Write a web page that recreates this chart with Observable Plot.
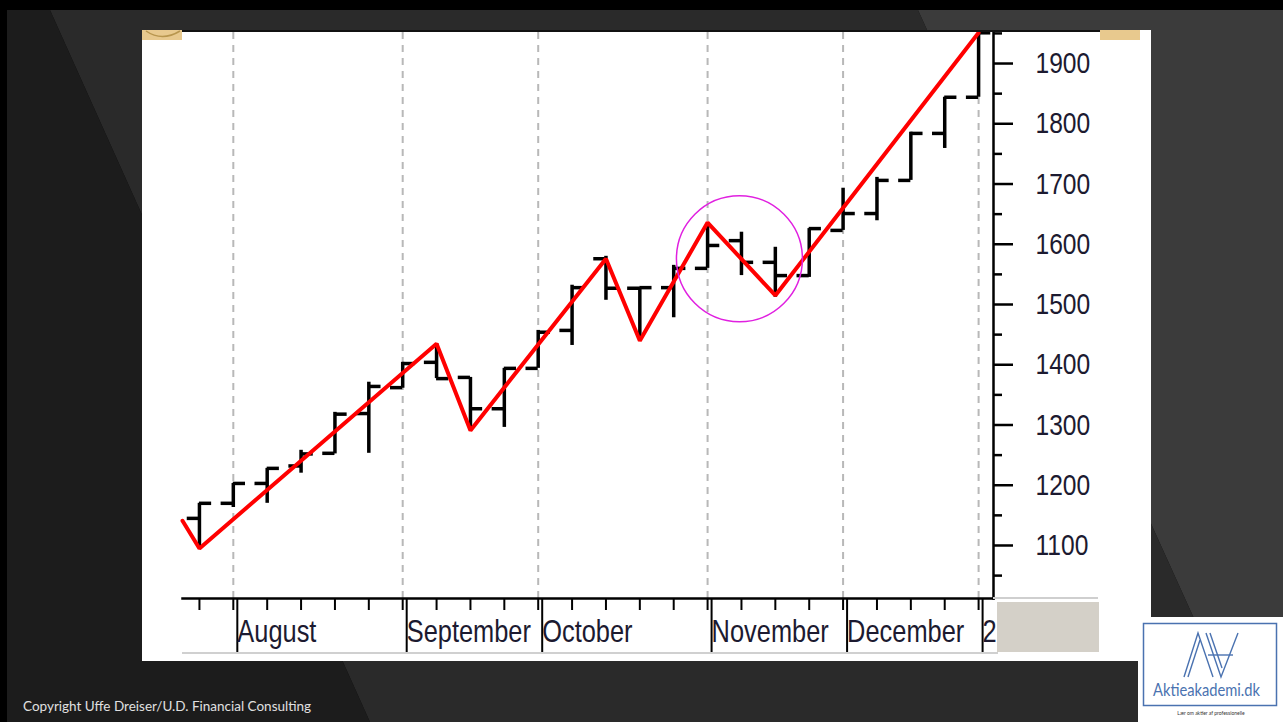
<!DOCTYPE html>
<html>
<head>
<meta charset="utf-8">
<script src="https://cdn.jsdelivr.net/npm/d3@7"></script>
<script src="https://cdn.jsdelivr.net/npm/@observablehq/plot@0.6"></script>
<style>
  html, body { margin: 0; padding: 0; background: #000; width: 1283px; height: 722px; overflow: hidden; }
  .layer { position: absolute; left: 0; top: 0; width: 1283px; height: 722px; }
  #panel { position: absolute; left: 142px; top: 30px; width: 1009px; height: 631px; background: #fff; }
  #copy { position: absolute; left: 23px; top: 698px; font-family: Lato, "Open Sans", sans-serif; font-size: 13.5px; color: #e0e0e0; }
</style>
</head>
<body>
<svg class="layer" width="1283" height="722">
  <polygon points="7,10 50,10 370,722 7,722" fill="#1c1c1c"/>
  <polygon points="50,10 918,10 1241,722 370,722" fill="#2a2a2a"/>
  <polygon points="918,10 1283,10 1283,722 1241,722" fill="#3b3b3b"/>
</svg>
<div id="panel"></div>
<svg class="layer" width="1283" height="722" style="pointer-events:none">
  <rect x="142" y="30" width="958" height="2" fill="#111"/>
  <rect x="142" y="30" width="40" height="10" fill="#e8c98e"/>
  <path d="M146,31 Q162,42 180,31" stroke="#b8964e" stroke-width="1.5" fill="none"/>
  <rect x="1100" y="30" width="40" height="10" fill="#e8c98e"/>
  <rect x="993" y="597" width="105" height="2" fill="#cfcfcf"/>
  <rect x="997" y="602" width="102" height="50" fill="#d4d0c8"/>
  <rect x="182" y="652" width="816" height="2" fill="#d0d0d0"/>
  <rect x="1138" y="617" width="145" height="105" fill="#fff"/>
  <rect x="1143.5" y="623.5" width="133" height="82" fill="none" stroke="#4a72b0" stroke-width="1.5"/>
  <g stroke="#4a72b0" stroke-width="1.4" fill="none">
    <path d="M1184,677 L1198,633 L1213,677"/>
    <path d="M1188,677 L1200,640"/>
    <path d="M1206,633 L1221,677 L1238,633"/>
    <path d="M1210,633 L1222,668"/>
    <path d="M1208,655 L1233,655"/>
  </g>
  <text x="1153" y="696" textLength="107" lengthAdjust="spacingAndGlyphs" font-family="Lato, 'Open Sans', sans-serif" font-size="17" fill="#4a72b0">Aktieakademi.dk</text>
  <text x="1211" y="715" text-anchor="middle" font-family="Lato, sans-serif" font-size="5" fill="#333">Lær om aktier af professionelle</text>
</svg>
<div id="copy">Copyright Uffe Dreiser/U.D. Financial Consulting</div>
<script>
// week index of each weekly bar (0 = last week of July)
const weekIdx = d3.range(0, 24);
// first week of each month and its label
const monthStarts = [1, 6, 10, 15, 19, 23];
const monthLabels = ["August", "September", "October", "November", "December", "2"];
// weekly OHLC values
const opens  = [1145, 1170, 1203, 1232, 1253, 1319, 1362, 1404, 1379, 1327, 1394, 1457, 1576, 1527, 1528, 1560, 1606, 1570, 1548, 1623, 1651, 1706, 1784, 1844];
const highs  = [1170, 1203, 1228, 1258, 1321, 1371, 1404, 1435, 1379, 1394, 1457, 1532, 1580, 1528, 1565, 1634, 1620, 1595, 1626, 1693, 1711, 1786, 1844, 1951];
const lows   = [1095, 1163, 1170, 1220, 1252, 1253, 1361, 1377, 1291, 1296, 1394, 1432, 1507, 1440, 1478, 1560, 1548, 1512, 1545, 1623, 1639, 1706, 1759, 1844];
const closes = [1170, 1203, 1228, 1252, 1318, 1364, 1402, 1377, 1327, 1394, 1454, 1528, 1527, 1528, 1560, 1598, 1570, 1548, 1626, 1651, 1706, 1784, 1844, 1951];
// zigzag pivots (week index, value)
const zigIdx = [-0.5, 0, 7, 8, 12, 13, 15, 17, 23];
const zigVal = [1141, 1095, 1435, 1291, 1576, 1440, 1636, 1515, 1951];
// highlighted region (circle centre)
const circleIdx = [15.94];
const circleVal = [1576];
// y-axis ticks
const yTicks = [1100, 1200, 1300, 1400, 1500, 1600, 1700, 1800, 1900];
const yMinor = [1050, 1150, 1250, 1350, 1450, 1550, 1650, 1750, 1850, 1950];

const bars = weekIdx.map((i, k) => ({i, open: opens[k], high: highs[k], low: lows[k], close: closes[k]}));
const zig = zigIdx.map((i, k) => ({i, v: zigVal[k]}));
const circ = circleIdx.map((i, k) => ({i, v: circleVal[k]}));
const tickLen = 0.36;
const font = "'Liberation Sans', Arial, sans-serif";
const textFill = "#1c1a30";

const chart = Plot.plot({
  width: 1009,
  height: 631,
  marginLeft: 40,
  marginRight: 158,
  marginTop: 2,
  marginBottom: 63,
  style: {fontFamily: font, background: "transparent", overflow: "visible"},
  x: {domain: [-0.5, 23.44]},
  y: {domain: [1012, 1951.5]},
  marks: [
    Plot.ruleX(monthStarts, {x: d => d, stroke: "#b8b8b8", strokeWidth: 2, strokeDasharray: "7,6"}),
    Plot.frame({anchor: "bottom", stroke: "#000", strokeWidth: 2.5}),
    Plot.frame({anchor: "right", stroke: "#000", strokeWidth: 2.5}),
    Plot.axisY({anchor: "right", ticks: yTicks, tickSize: 19, tickPadding: 23, fontSize: 30, strokeWidth: 2.5, stroke: "#000", fill: textFill, label: null, tickFormat: d => String(d)}),
    Plot.axisY({anchor: "right", ticks: yMinor, tickSize: 8, strokeWidth: 2.5, stroke: "#000", label: null, tickFormat: () => ""}),
    Plot.axisX({anchor: "bottom", ticks: weekIdx, tickSize: 12, strokeWidth: 2, stroke: "#000", label: null, tickFormat: () => ""}),
    Plot.axisX({anchor: "bottom", ticks: monthStarts, tickSize: 54, tickPadding: -33, strokeWidth: 2, stroke: "#000",
      fontSize: 31, fill: textFill, textAnchor: "start", dx: 4, label: null,
      tickFormat: d => monthLabels[monthStarts.indexOf(d)]}),
    Plot.ruleX(bars, {x: "i", y1: "low", y2: "high", stroke: "#000", strokeWidth: 3.5}),
    Plot.ruleY(bars, {y: "open", x1: d => d.i - tickLen, x2: "i", stroke: "#000", strokeWidth: 3.5}),
    Plot.ruleY(bars, {y: "close", x1: "i", x2: d => d.i + tickLen, stroke: "#000", strokeWidth: 3.5}),
    Plot.line(zig, {x: "i", y: "v", stroke: "#ff0000", strokeWidth: 4, strokeLinejoin: "miter"}),
    Plot.dot(circ, {x: "i", y: "v", r: 63, stroke: "#e020e0", strokeWidth: 1.5, fill: "none"})
  ]
});
// condense the axis lettering horizontally, as in the original screen font
d3.select(chart).selectAll("g[aria-label$='tick label'] text").each(function() {
  const t = this.getAttribute("transform") || "";
  this.setAttribute("transform", t + " scale(0.82,1)");
});
document.getElementById("panel").appendChild(chart);
</script>
</body>
</html>
